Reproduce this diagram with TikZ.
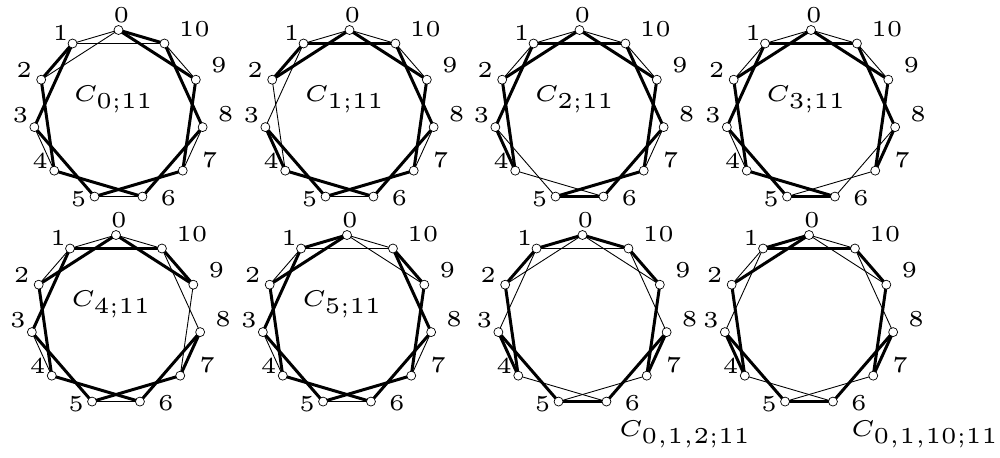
\documentclass[tikz,border=0pt]{standalone}
\usepackage{amsmath,amssymb}
\usepackage{tikz}
\usetikzlibrary{positioning,calc}

\begin{document}
\begin{tikzpicture}[
  vtx/.style={circle,draw,fill=white,inner sep=0pt,minimum size=1.8mm,line width=0.4pt},
  boldedge/.style={line width=1.7pt},
  thinedge/.style={line width=0.5pt},
  num/.style={font=\tiny,scale=2.6,inner sep=0pt}]
\useasboundingbox (0,0) rectangle (20,-9.14);

% centres of the eight cycles
\foreach \g/\cx/\cy in {a/2.37/-2.30, b/6.99/-2.30, c/11.59/-2.30, d/16.22/-2.30,
                        e/2.32/-6.40, f/6.94/-6.40, g/11.65/-6.40, h/16.18/-6.40}
  \coordinate (\g c) at (\cx,\cy);
\foreach \g in {a,...,h}
  \foreach \k in {0,...,10}
    \coordinate (\g\k) at ($(\g c)+({90+\k*360/11}:1.70)$);

% thin edges
\foreach \g/\edges in {a/{0/1,0/2,1/10,10/9,8/7,6/5,4/3},
                       b/{0/1,0/10,10/9,8/7,6/5,1/3,2/4},
                       c/{0/1,1/2,0/10,10/9,8/7,6/4,5/3},
                       d/{0/1,1/2,0/10,10/9,3/4,5/7,6/8},
                       e/{0/1,1/2,0/10,10/8,9/7,3/4,5/6},
                       f/{1/10,0/10,0/9,1/2,3/4,5/6,8/7},
                       g/{1/10,0/2,0/9,1/3,10/8,4/6,5/7},
                       h/{0/10,0/9,1/2,1/3,10/8,4/6,5/7}}
  \foreach \u/\v in \edges
    \draw[thinedge] (\g\u) -- (\g\v);

% bold edges (the hamiltonian cycle)
\foreach \g/\edges in {a/{0/10,0/9,10/8,9/7,8/6,7/5,6/4,5/3,4/2,3/1,2/1},
                       b/{0/2,1/2,1/10,0/9,10/8,9/7,8/6,7/5,6/4,5/3,3/4},
                       c/{0/2,2/4,4/3,3/1,1/10,10/8,8/6,6/5,5/7,7/9,9/0},
                       d/{0/2,2/4,4/6,6/5,5/3,3/1,1/10,10/8,8/7,7/9,9/0},
                       e/{0/2,2/4,4/6,6/8,8/7,7/5,5/3,3/1,1/10,10/9,9/0},
                       f/{0/2,2/4,4/6,6/8,8/10,10/9,9/7,7/5,5/3,3/1,1/0},
                       g/{0/1,1/2,2/4,4/3,3/5,5/6,6/8,8/7,7/9,9/10,10/0},
                       h/{0/1,1/10,10/9,9/7,7/8,8/6,6/5,5/3,3/4,4/2,2/0}}
  \foreach \u/\v in \edges
    \draw[boldedge] (\g\u) -- (\g\v);

% vertices and their numbers
\foreach \g in {a,...,h}{
  \foreach \k in {0,...,10}
    \node[vtx] (\g v\k) at (\g\k) {};
  \foreach \k/\dx/\dy in {0/0.06/0.30, 1/-0.24/0.22, 2/-0.34/0.20, 3/-0.28/0.24,
                          4/-0.28/0.20, 5/-0.32/-0.06, 6/0.52/-0.04, 7/0.54/0.22,
                          8/0.46/0.26, 9/0.46/0.30, 10/0.60/0.28}
    \node[num] (\g l\k) at ($(\g\k)+(\dx,\dy)$) {\k};
}

% names
\foreach \g/\k in {a/0,b/1,c/2,d/3,e/4,f/5}
  \node[num] (\g name) at ($(\g c)+(-0.09,0.31)$) {$C_{\k;11}$};
\node[num,anchor=west] (gname) at (12.36,-8.68) {$C_{0,1,2;11}$};
\node[num,anchor=west] (hname) at (17.00,-8.68) {$C_{0,1,10;11}$};
\end{tikzpicture}
\end{document}
